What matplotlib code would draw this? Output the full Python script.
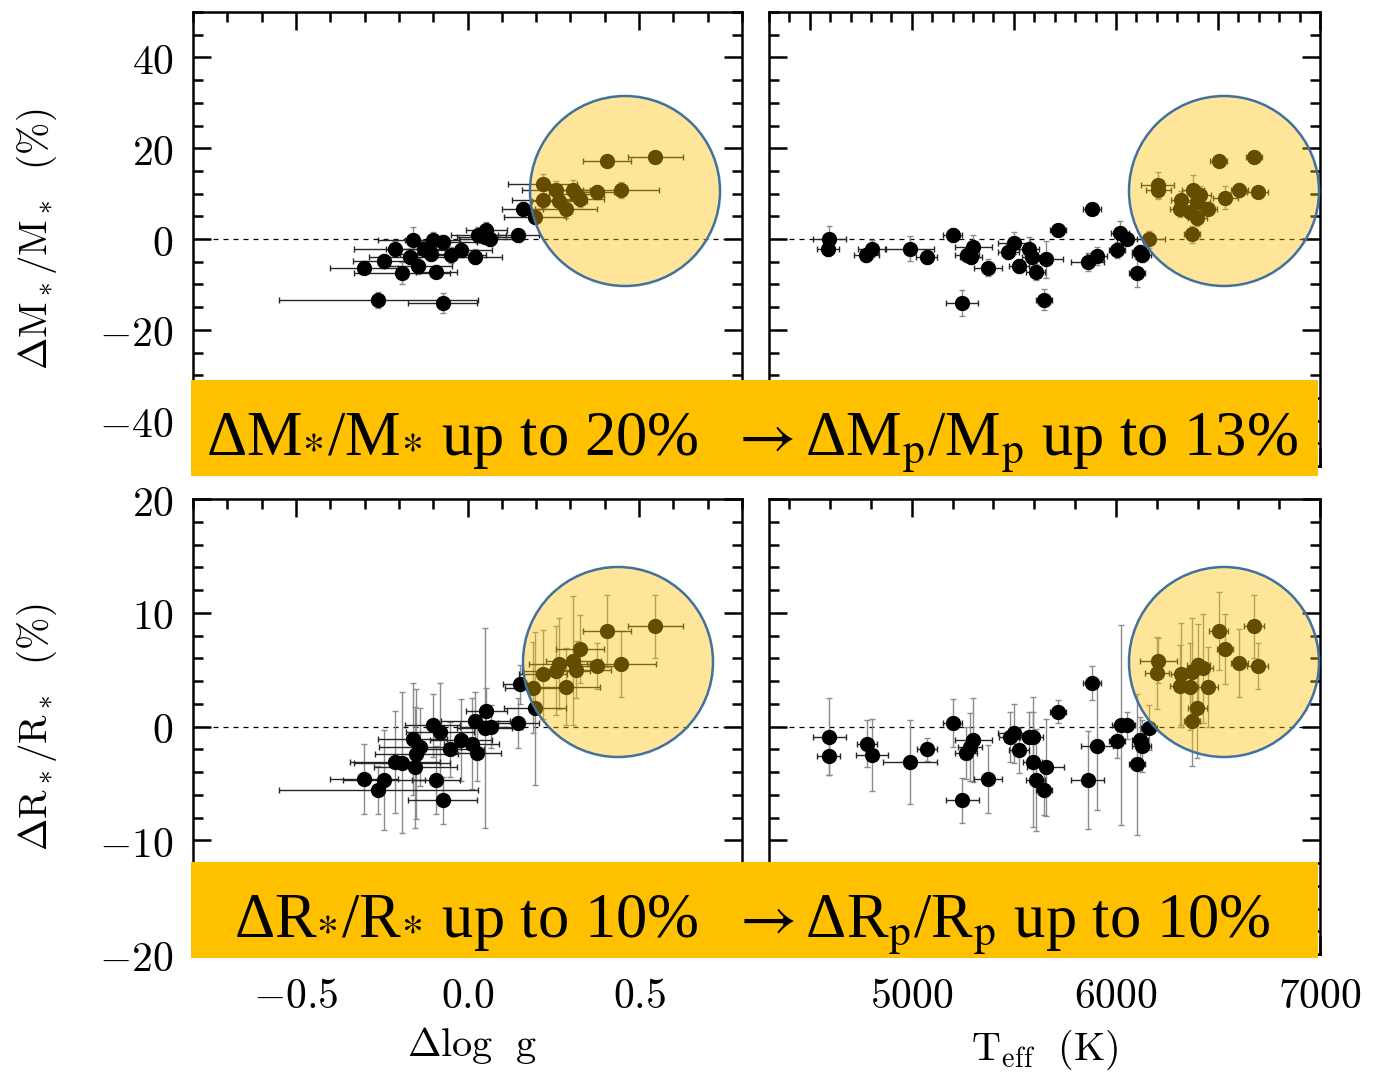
import numpy as np
import matplotlib
matplotlib.use("Agg")
import matplotlib.pyplot as plt
from matplotlib.ticker import MultipleLocator, FuncFormatter
from matplotlib.patches import Rectangle, Ellipse

plt.rcParams['mathtext.fontset'] = 'cm'

# dM/M vs delta log g
tl_x = [-0.26, -0.072, -0.302, -0.243, -0.192, -0.211, -0.160, -0.144, -0.168, -0.128,
        -0.101, -0.072, -0.091, -0.106, -0.047, -0.020, 0.021, 0.032, 0.055, 0.066,
        0.050, 0.148, 0.161, 0.197, 0.219, 0.219, 0.258, 0.268, 0.287, 0.308,
        0.317, 0.327, 0.376, 0.407, 0.448, 0.547]
tl_y = [-13.4, -14.0, -6.3, -4.8, -7.5, -2.1, -0.2, -5.9, -3.9, -2.1,
        -0.2, -0.7, -7.2, -3.2, -3.5, -2.4, -3.9, 0.9, 2.0, 0.1,
        0.5, 0.8, 6.7, 4.8, 12.2, 8.7, 10.9, 8.4, 6.6, 10.9,
        10.0, 8.9, 10.4, 17.2, 10.8, 18.1]
tl_xerr = [0.29, 0.10, 0.10, 0.09, 0.14, 0.12, 0.10, 0.10, 0.12, 0.11,
           0.08, 0.10, 0.06, 0.09, 0.10, 0.09, 0.08, 0.08, 0.06, 0.09,
           0.08, 0.06, 0.06, 0.09, 0.10, 0.09, 0.10, 0.08, 0.09, 0.07,
           0.08, 0.07, 0.05, 0.07, 0.11, 0.08]
tl_yerr = [1.8, 2.2, 1.5, 1.6, 2.5, 1.7, 2.9, 1.8, 1.6, 1.7,
           1.8, 1.5, 1.5, 1.6, 1.7, 1.5, 1.6, 1.8, 1.7, 1.6,
           1.5, 1.4, 1.5, 1.6, 2.2, 1.8, 1.9, 1.8, 2.0, 2.0,
           1.7, 1.8, 1.6, 1.2, 1.7, 1.2]

# dM/M vs Teff
tr_x = [4595, 4590, 4777, 4805, 4990, 5072, 5200, 5247, 5302, 5269,
        5291, 5373, 5501, 5473, 5524, 5575, 5588, 5606, 5648, 5656,
        5716, 5883, 5861, 5907, 6004, 6020, 6053, 6117, 6126, 6104,
        6162, 6204, 6208, 6321, 6313, 6377, 6414, 6399, 6363, 6399,
        6450, 6372, 6503, 6676, 6536, 6605, 6694]
tr_y = [0.0, -2.3, -3.5, -2.1, -2.1, -4.0, 0.9, -14.1, -1.7, -3.5,
        -3.9, -6.3, -0.8, -2.8, -5.9, -2.1, -3.9, -7.2, -13.4, -4.5,
        2.0, 6.7, -5.0, -3.7, -2.4, 1.4, 0.1, -2.8, -3.5, -7.5,
        -0.1, 11.9, 10.8, 8.6, 6.7, 10.9, 9.8, 8.2, 6.0, 4.7,
        6.7, 1.0, 17.2, 18.1, 9.1, 10.8, 10.4]
tr_xerr = [80, 55, 60, 70, 120, 50, 45, 78, 90, 60,
           55, 70, 80, 50, 50, 50, 50, 45, 40, 85,
           40, 45, 80, 50, 40, 45, 50, 40, 45, 40,
           80, 80, 60, 50, 50, 55, 50, 60, 50, 45,
           45, 40, 40, 40, 60, 40, 50]
tr_yerr = [2.8, 1.5, 1.6, 1.8, 2.8, 1.5, 1.5, 2.9, 2.5, 1.6,
           1.5, 1.8, 2.4, 1.6, 1.5, 2.5, 2.0, 1.8, 2.3, 4.0,
           1.2, 1.3, 2.0, 2.0, 1.7, 2.6, 1.4, 1.5, 1.5, 3.0,
           1.8, 2.9, 2.0, 2.0, 1.8, 3.2, 1.8, 1.8, 1.5, 1.8,
           1.5, 1.8, 1.2, 1.2, 2.5, 1.6, 1.0]

# dR/R vs delta log g
bl_x = [-0.302, -0.260, -0.243, -0.192, -0.211, -0.152, -0.072, -0.091, -0.160, -0.138,
        -0.101, -0.080, -0.149, -0.052, -0.020, 0.012, 0.028, 0.023, 0.055, 0.050,
        0.068, 0.148, 0.154, 0.197, 0.190, 0.219, 0.258, 0.268, 0.287, 0.308,
        0.317, 0.327, 0.376, 0.407, 0.448, 0.547]
bl_y = [-4.6, -5.6, -4.7, -3.2, -3.1, -3.6, -6.5, -4.7, -1.1, -1.8,
        0.1, -0.5, -2.4, -2.0, -1.2, -1.5, -2.3, 0.5, 1.4, -0.1,
        0.0, 0.3, 3.7, 1.6, 3.4, 4.6, 4.9, 5.5, 3.5, 5.8,
        5.0, 6.8, 5.3, 8.4, 5.5, 8.8]
bl_xerr = [0.10, 0.29, 0.12, 0.14, 0.13, 0.12, 0.10, 0.07, 0.10, 0.12,
           0.08, 0.10, 0.12, 0.10, 0.09, 0.08, 0.07, 0.10, 0.06, 0.08,
           0.09, 0.06, 0.05, 0.09, 0.08, 0.07, 0.10, 0.09, 0.10, 0.08,
           0.10, 0.07, 0.06, 0.07, 0.10, 0.08]
bl_yerr = [3.1, 2.1, 4.4, 6.2, 4.5, 5.3, 2.1, 3.0, 4.9, 3.4,
           2.8, 4.3, 5.7, 2.4, 3.6, 4.0, 2.5, 2.5, 2.0, 8.8,
           1.9, 2.2, 1.7, 6.7, 4.0, 3.9, 3.9, 4.0, 3.4, 5.7,
           2.5, 3.0, 2.0, 3.2, 2.9, 2.8]

# dR/R vs Teff
br_x = [4595, 4592, 4781, 4805, 4991, 5073, 5200, 5247, 5302, 5284,
        5266, 5373, 5501, 5479, 5524, 5575, 5592, 5592, 5606, 5648,
        5656, 5716, 5883, 5861, 5907, 6004, 6025, 6053, 6117, 6126,
        6104, 6162, 6208, 6202, 6321, 6313, 6372, 6404, 6426, 6363,
        6450, 6399, 6372, 6503, 6536, 6605, 6676, 6694]
br_y = [-0.9, -2.6, -1.5, -2.5, -3.1, -2.0, 0.3, -6.5, -1.2, -1.8,
        -2.3, -4.6, -0.6, -0.9, -2.1, -0.9, -0.9, -3.1, -4.7, -5.6,
        -3.6, 1.3, 3.8, -4.7, -1.7, -1.3, 0.1, 0.1, -1.2, -1.7,
        -3.3, -0.1, 5.8, 4.7, 4.6, 3.6, 4.8, 5.4, 5.1, 3.5,
        3.5, 1.6, 0.5, 8.4, 6.8, 5.6, 8.8, 5.3]
br_xerr = [80, 55, 50, 80, 130, 50, 45, 80, 90, 60,
           55, 70, 80, 50, 50, 50, 50, 45, 45, 40,
           90, 40, 45, 80, 80, 40, 45, 40, 40, 45,
           40, 40, 90, 60, 50, 50, 50, 55, 50, 60,
           50, 45, 40, 45, 40, 40, 50, 50]
br_yerr = [3.4, 1.7, 2.1, 3.2, 3.7, 1.0, 2.1, 2.0, 3.7, 3.0,
           2.3, 3.0, 2.6, 2.2, 2.0, 2.2, 2.2, 5.7, 4.5, 2.2,
           4.3, 1.0, 1.5, 4.3, 5.6, 1.5, 8.8, 1.2, 2.0, 2.3,
           6.2, 2.0, 2.0, 3.2, 4.5, 3.6, 4.7, 3.6, 4.8, 3.8,
           3.5, 4.4, 4.0, 3.4, 3.1, 3.0, 2.8, 2.0]

W, H = 1376, 1076
fig = plt.figure(figsize=(W / 100, H / 100), dpi=100)


def add_ax(l, t, r, b):
    return fig.add_axes([l / W, 1 - b / H, (r - l) / W, (b - t) / H])


def mathfmt(f):
    def _f(v, pos):
        if abs(v) < 1e-9:
            v = 0.0
        return '$' + (f % v) + '$'
    return FuncFormatter(_f)


def style(ax, xlim, xmaj, xmin, ylim, ymaj, ymin, xf, yf, showx, showy):
    ax.set_xlim(*xlim)
    ax.set_ylim(*ylim)
    ax.xaxis.set_major_locator(MultipleLocator(xmaj))
    ax.xaxis.set_minor_locator(MultipleLocator(xmin))
    ax.yaxis.set_major_locator(MultipleLocator(ymaj))
    ax.yaxis.set_minor_locator(MultipleLocator(ymin))
    ax.xaxis.set_major_formatter(mathfmt(xf))
    ax.yaxis.set_major_formatter(mathfmt(yf))
    ax.tick_params(which='both', direction='in', top=True, right=True,
                   width=1.8, labelsize=30, labelbottom=showx, labelleft=showy)
    ax.tick_params(which='major', length=13)
    ax.tick_params(which='minor', length=7.5)
    ax.tick_params(axis='x', pad=15)
    ax.tick_params(axis='y', pad=14)
    for s in ax.spines.values():
        s.set_linewidth(1.8)


def draw(ax, x, y, xe, ye):
    ax.axhline(0, color='k', lw=0.9, ls=(0, (4, 4)), zorder=1)
    ax.errorbar(x, y, yerr=ye, fmt='none', ecolor='0.55', elinewidth=1.0,
                capsize=2.5, capthick=1.0, zorder=2)
    ax.errorbar(x, y, xerr=xe, fmt='none', ecolor='0.15', elinewidth=1.0,
                capsize=2.5, capthick=1.0, zorder=2)
    ax.plot(x, y, 'o', color='k', ms=10, zorder=3)


ax_tl = add_ax(193, 12, 742, 466)
ax_tr = add_ax(769, 12, 1320, 466)
ax_bl = add_ax(193, 499, 742, 954)
ax_br = add_ax(769, 499, 1320, 954)

draw(ax_tl, tl_x, tl_y, tl_xerr, tl_yerr)
draw(ax_tr, tr_x, tr_y, tr_xerr, tr_yerr)
draw(ax_bl, bl_x, bl_y, bl_xerr, bl_yerr)
draw(ax_br, br_x, br_y, br_xerr, br_yerr)

style(ax_tl, (-0.8, 0.8), 0.5, 0.1, (-50, 50), 20, 5, '%.1f', '%d', False, True)
style(ax_tr, (4300, 7000), 500, 100, (-50, 50), 20, 5, '%d', '%d', False, False)
style(ax_bl, (-0.8, 0.8), 0.5, 0.1, (-20, 20), 10, 2, '%.1f', '%d', True, True)
style(ax_br, (4300, 7000), 1000, 200, (-20, 20), 10, 2, '%d', '%d', True, False)

# axis titles
fig.text(37 / W, 1 - 239 / H, r'$\Delta\mathrm{M}_*/\mathrm{M}_*\ \ (\%)$',
         rotation=90, ha='center', va='center', fontsize=28)
fig.text(37 / W, 1 - 727 / H, r'$\Delta\mathrm{R}_*/\mathrm{R}_*\ \ (\%)$',
         rotation=90, ha='center', va='center', fontsize=28)
fig.text(472 / W, 1 - 1045 / H, r'$\Delta\mathrm{log\ \ g}$',
         ha='center', va='center', fontsize=29)
fig.text(1045 / W, 1 - 1050 / H, r'$\mathrm{T_{eff}\ \ (K)}$',
         ha='center', va='center', fontsize=29)

# highlight circles
for cx, cy in [(625, 191), (1224, 191), (618, 662), (1224, 662)]:
    fig.add_artist(Ellipse((cx / W, 1 - cy / H), 190 / W, 190 / H,
                           transform=fig.transFigure, facecolor=(1, 0.753, 0, 0.4),
                           edgecolor='#41719C', lw=1.8, zorder=5))

# summary bands
bands = [
    (380, 476, 455, r'ΔM$_{*}$/M$_{*}$ up to 20%  $\rightarrow$ΔM$_{\mathrm{p}}$/M$_{\mathrm{p}}$ up to 13%'),
    (862, 958, 937, r'ΔR$_{*}$/R$_{*}$ up to 10%  $\rightarrow$ΔR$_{\mathrm{p}}$/R$_{\mathrm{p}}$ up to 10%'),
]
for top, bot, base, txt in bands:
    fig.add_artist(Rectangle((191 / W, 1 - bot / H), (1318 - 191) / W, (bot - top) / H,
                             transform=fig.transFigure, facecolor='#FFC000',
                             edgecolor='none', zorder=6))
    fig.text(752 / W, 1 - base / H, txt, ha='center', va='baseline', fontsize=45,
             family=['Liberation Serif', 'DejaVu Serif'], math_fontfamily='stix',
             zorder=7)

fig.savefig('out.png', dpi=100)
